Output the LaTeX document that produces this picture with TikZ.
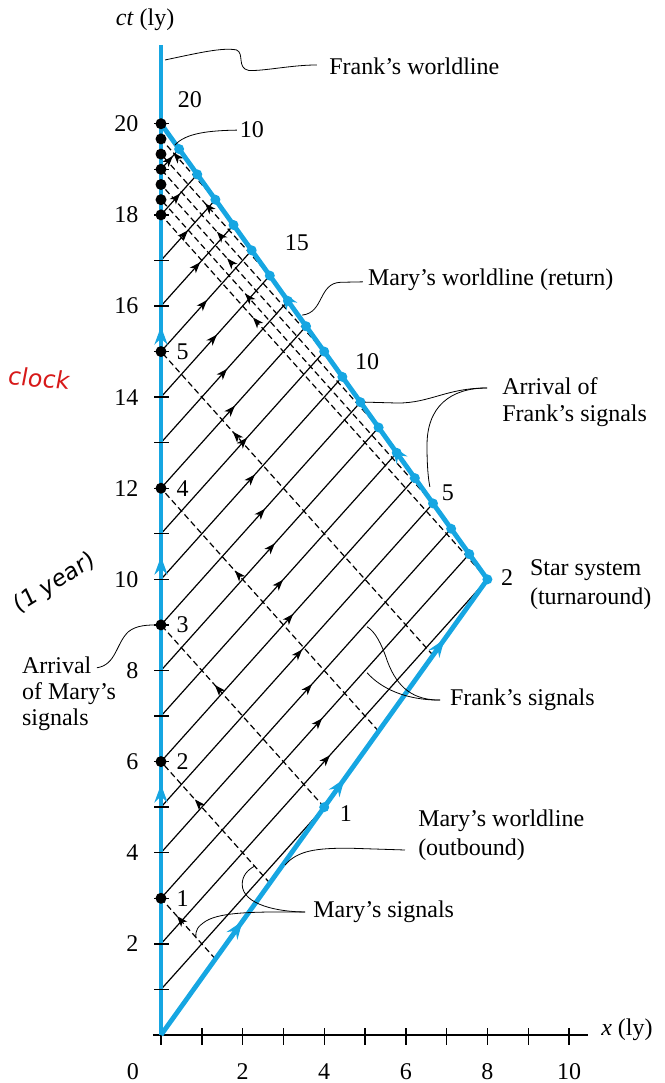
\documentclass[tikz,border=0pt]{standalone}
\usepackage{fontspec}
\setmainfont{Liberation Serif}
\newfontfamily\handfont[FakeSlant=0.12]{DejaVu Sans}
\usetikzlibrary{arrows.meta,decorations.markings,calc}
\definecolor{wlblue}{RGB}{22,166,226}
\definecolor{handred}{RGB}{215,25,25}
\tikzset{
  btip/.tip={Stealth[length=18pt,width=13pt,inset=6pt]},
  stip/.tip={Stealth[length=11pt,width=8pt,inset=3pt]},
}
\begin{document}
\begin{tikzpicture}[x=40.8pt,y=45.56pt,
  lbl/.style={font=\fontsize{24}{27}\selectfont, inner sep=0pt},
  sig/.style={line width=1.2pt, black},
  msig/.style={line width=1.2pt, black, dash pattern=on 6pt off 3.5pt},
  blueline/.style={line width=4.8pt, wlblue},
  leader/.style={line width=0.8pt, black},
  axisline/.style={line width=1.4pt, black},
  sigarrow/.style={postaction={solid, decorate}, decoration={markings, mark=at position #1 with {\arrow{stip}}}},
  bdot/.style={fill=wlblue},
]
\useasboundingbox (-3.946,-1.054) rectangle (12.328,22.716);

% key points
\coordinate (O) at (0,0);
\coordinate (T) at (8,10);
\coordinate (R) at (0,20);
\coordinate (FT) at (0,21.73);
\coordinate (M1) at (4,5);

% x axis
\draw[axisline] (-0.2,0) -- (10.47,0);
\foreach \i in {0,...,10} \draw[axisline] (\i,0.15) -- (\i,-0.22);

% Frank's signals (solid)
\coordinate (F1) at (0,1);
\draw[sig] (F1) -- (M1);
\foreach \n/\a in {2/4.14,3/3.95,4/3.70,5/3.46,6/3.24,7/2.99,8/2.79,9/2.55,10/2.30,11/2.11,12/1.81,13/1.62,14/1.37,15/1.13,16/0.96,17/0.66,18/0.47,19/0.29}{
  \pgfmathsetmacro\cte{(16+\n)/1.8}
  \pgfmathsetmacro\xe{\cte-\n}
  \pgfmathsetmacro\d{\a*61.158}
  \coordinate (F\n) at (0,\n);
  \coordinate (E\n) at (\xe,\cte);
  \draw[sig, sigarrow=\d pt] (F\n) -- (E\n);
}

% Mary's signals outbound (dashed)
\foreach \k/\a in {1/0.39,2/0.83,3/1.32,4/1.81,5/1.76,6/2.25}{
  \pgfmathsetmacro\xs{4*\k/3}
  \pgfmathsetmacro\ys{5*\k/3}
  \pgfmathsetmacro\d{(\xs-\a)*61.158}
  \coordinate (S\k) at (\xs,\ys);
  \coordinate (A\k) at (0,3*\k);
  \draw[msig, sigarrow=\d pt] (S\k) -- (A\k);
}
% Mary's signals return (dashed)
\foreach \j/\a in {1/2.06,2/1.62,3/1.37,4/1.08,5/0.3}{
  \pgfmathsetmacro\xs{8-4*\j/3}
  \pgfmathsetmacro\ys{10+5*\j/3}
  \pgfmathsetmacro\ya{18+\j/3}
  \pgfmathsetmacro\d{(\xs-\a)*61.158}
  \coordinate (Q\j) at (\xs,\ys);
  \coordinate (B\j) at (0,\ya);
  \draw[msig, sigarrow=\d pt] (Q\j) -- (B\j);
}

% Frank's worldline
\draw[blueline, postaction={decorate}, decoration={markings,
   mark=at position 250.6pt with {\arrow{btip}},
   mark=at position 478.4pt with {\arrow{btip}},
   mark=at position 708.5pt with {\arrow{btip}}}] (O) -- (FT);
% Mary's worldline
\draw[blueline, line join=round, postaction={decorate}, decoration={markings,
   mark=at position 140.1pt with {\arrow{btip}},
   mark=at position 315.3pt with {\arrow{btip}},
   mark=at position 486.9pt with {\arrow{btip}},
   mark=at position 725.1pt with {\arrow{btip}},
   mark=at position 914.3pt with {\arrow{btip}}}] (O) -- (T) -- (R);

% y ticks
\foreach \j in {1,...,20} \draw[axisline] (-0.17,\j) -- (0.2,\j);

% dots
\foreach \c in {3,6,9,12,15,18,18.3333,18.6667,19,19.3333,19.6667,20}
  \fill (0,\c) circle[radius=5.5pt];
\foreach \n in {3,...,19}{
  \pgfmathsetmacro\cte{(16+\n)/1.8}
  \pgfmathsetmacro\xe{\cte-\n}
  \fill[bdot] (\xe,\cte) circle[radius=5pt];
}
\fill[bdot] (M1) circle[radius=5pt];
\fill[bdot] (T) circle[radius=5pt];

% axis numbers
\foreach \v in {2,4,...,20} \node[lbl, anchor=east] (yl\v) at (-0.55,\v) {\v};
\node[lbl] (xl0) at (-0.69,-0.81) {0};
\foreach \v in {2,4,...,10} \node[lbl] (xl\v) at (\v,-0.81) {\v};
\node[lbl] (ctl) at (-0.39,22.28) {\textit{ct} (ly)};
\node[lbl] (xll) at (11.42,0.11) {\textit{x} (ly)};

% Mary's signal arrival numbers at Frank
\foreach \k in {1,...,5} \node[lbl, anchor=west] (fn\k) at (0.38,3*\k) {\k};

% Frank's signal arrival numbers at Mary
\node[lbl] (mn1) at (4.53,4.87) {1};
\node[lbl] (mn2) at (8.48,10.05) {2};
\node[lbl] (mn5) at (7.03,11.90) {5};
\node[lbl] (mn10) at (5.05,14.77) {10};
\node[lbl] (mn15) at (3.33,17.38) {15};
\node[lbl] (mn20) at (0.71,20.52) {20};
\node[lbl] (mq10) at (2.23,19.86) {10};

% text labels
\node[lbl, anchor=west] (fw) at (4.12,21.27) {Frank's worldline};
\node[lbl, anchor=west] (mwr) at (5.07,16.57) {Mary's worldline (return)};
\node[lbl, anchor=west, align=left] (afs) at (8.36,13.90) {Arrival of\\Frank's signals};
\node[lbl, anchor=west, align=left, font=\fontsize{24}{29}\selectfont] (star) at (9.04,9.88) {Star system\\(turnaround)};
\node[lbl, anchor=west] (fs) at (7.08,7.35) {Frank's signals};
\node[lbl, anchor=west, align=left, font=\fontsize{24}{29}\selectfont] (mwo) at (6.30,4.39) {Mary's worldline\\(outbound)};
\node[lbl, anchor=west] (ms) at (3.73,2.70) {Mary's signals};
\node[lbl, anchor=west, align=left, font=\fontsize{24}{26}\selectfont] (ams) at (-3.41,7.48) {Arrival\\of Mary's\\signals};

% handwritten notes
\node[font=\handfont\fontsize{24}{28}\selectfont, text=handred, rotate=-4] (hclock) at (-3.01,14.42) {clock};
\node[font=\handfont\fontsize{23}{26}\selectfont, rotate=32, inner sep=0pt] (hyear) at (-2.62,9.9) {(1 year)};

% leader lines
\coordinate (lfw0) at (0.10,21.40);
\coordinate (lfw1) at (3.82,21.29);
\draw[leader] (lfw0) .. controls (0.9,21.55) and (1.5,21.68) .. (1.85,21.62)
  .. controls (2.05,21.55) and (1.85,21.22) .. (2.15,21.17)
  .. controls (2.5,21.15) and (3.2,21.29) .. (lfw1);

\coordinate (lq0) at (1.86,19.86);
\coordinate (lq1) at (0.34,19.53);
\draw[leader] (lq0) .. controls (1.2,19.85) and (0.6,19.8) .. (lq1);

\coordinate (lmr0) at (3.46,15.80);
\coordinate (lmr1) at (4.95,16.53);
\draw[leader] (lmr0) .. controls (4.0,15.85) and (3.85,16.5) .. (4.4,16.52) -- (lmr1);

\coordinate (la0) at (7.99,14.20);
\coordinate (la1) at (5.0,13.89);
\coordinate (la2) at (6.59,12.03);
\draw[leader] (la0) .. controls (7.0,14.2) and (6.6,13.87) .. (5.8,13.87) -- (la1);
\draw[leader] (la0) .. controls (7.1,14.2) and (6.5,13.8) .. (6.52,12.9)
  .. controls (6.52,12.5) and (6.55,12.2) .. (la2);

\coordinate (lf0) at (6.84,7.35);
\coordinate (lf1) at (5.05,8.96);
\coordinate (lf2) at (5.05,7.95);
\draw[leader] (lf0) .. controls (6.2,7.35) and (5.8,7.6) .. (5.55,8.2)
  .. controls (5.4,8.6) and (5.25,8.85) .. (lf1);
\draw[leader] (lf0) .. controls (6.0,7.35) and (5.4,7.6) .. (lf2);

\coordinate (lo0) at (5.98,4.06);
\coordinate (lo1) at (3.04,3.73);
\draw[leader] (lo0) -- (4.6,4.1) .. controls (3.8,4.1) and (3.35,4.05) .. (lo1);

\coordinate (ls0) at (3.53,2.70);
\coordinate (ls1) at (2.30,3.71);
\coordinate (ls2) at (0.86,2.12);
\draw[leader] (ls0) .. controls (2.9,2.70) and (2.0,2.85) .. (1.99,3.3)
  .. controls (1.99,3.5) and (2.12,3.62) .. (ls1);
\draw[leader] (ls0) .. controls (2.5,2.70) and (1.5,2.72) .. (1.1,2.5)
  .. controls (0.9,2.38) and (0.83,2.3) .. (ls2);

\coordinate (lm0) at (-1.57,8.06);
\coordinate (lm1) at (-0.05,9.0);
\draw[leader] (lm0) .. controls (-1.1,8.12) and (-1.1,8.6) .. (-0.8,8.85)
  .. controls (-0.6,9.0) and (-0.3,9.0) .. (lm1);
\end{tikzpicture}
\end{document}
